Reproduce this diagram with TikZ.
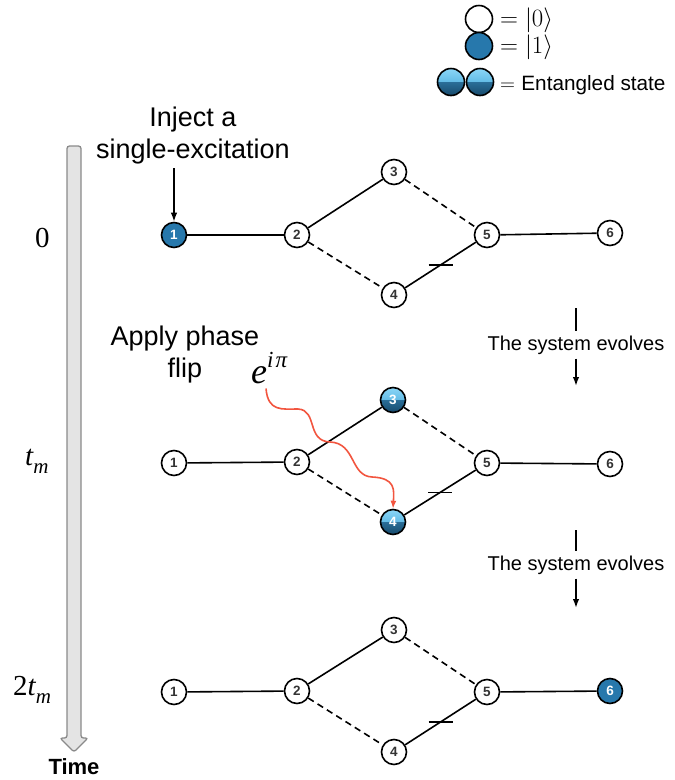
\documentclass[tikz,border=0pt]{standalone}
\usepackage{fontspec}
\setsansfont{Liberation Sans}
\newfontfamily\tms{Liberation Serif}
\usetikzlibrary{arrows.meta}
\definecolor{qblue}{HTML}{2778AC}
\definecolor{qgray}{HTML}{333333}
\definecolor{elight}{HTML}{8AD6F7}
\definecolor{emid}{HTML}{3B9FD3}
\definecolor{edarkA}{HTML}{2A6E98}
\definecolor{edarkB}{HTML}{174A6C}
\definecolor{wavy}{HTML}{F2553F}
\definecolor{tfill}{HTML}{E4E4E4}
\definecolor{tdraw}{HTML}{8A8A8A}
\tikzset{
  q0/.style={circle, draw=black, line width=1.6pt, fill=white, minimum size=25pt, inner sep=0pt,
    font=\sffamily\bfseries\fontsize{13.5}{13.5}\selectfont, text=qgray},
  q1/.style={q0, fill=qblue, text=white},
  qe/.style={q0, text=white, path picture={
      \fill[top color=elight, bottom color=emid] (path picture bounding box.north west) rectangle (path picture bounding box.east);
      \fill[top color=edarkA, bottom color=edarkB] (path picture bounding box.west) rectangle (path picture bounding box.south east);
    }},
  edge/.style={line width=1.6pt},
  dedge/.style={line width=1.6pt, dash pattern=on 6.5pt off 4.5pt},
  tick/.style={line width=1.6pt},
  lbl/.style={font=\sffamily\fontsize{27}{32}\selectfont},
  evo/.style={font=\sffamily\fontsize{20}{20}\selectfont, inner sep=4pt},
  tlab/.style={anchor=base west, inner sep=0pt, font=\tms\fontsize{29}{29}\selectfont},
  blk/.style={line width=1.6pt, -{Latex[length=9pt,width=6.5pt]}},
}
\newcommand{\tmsub}[1]{\raisebox{-0.28em}{\fontsize{21}{21}\selectfont\itshape #1}}
\begin{document}
\begin{tikzpicture}[x=1pt,y=-1pt]
\useasboundingbox (0,0) rectangle (675,780);

% legend
\node[q0, minimum size=27pt] (l0) at (479,19) {};
\node[q1, minimum size=27pt] (l1) at (479,46) {};
\node[qe, minimum size=27pt] (le1) at (451,82) {};
\node[qe, minimum size=27pt] (le2) at (480,82) {};
\node[anchor=west, font=\fontsize{24.88}{25}\selectfont, inner sep=0pt] (t0) at (500,20) {$=|0\rangle$};
\node[anchor=west, font=\fontsize{24.88}{25}\selectfont, inner sep=0pt] (t1) at (500,47) {$=|1\rangle$};
\node[anchor=west, font=\fontsize{20.74}{21}\selectfont, inner sep=0pt] (te) at (500,85) {$=$ \sffamily Entangled state};

% time arrow
\draw[fill=tfill, draw=tdraw, line width=1.3pt, rounded corners=2.5pt]
  (67,146) -- (81,146) -- (81,738) -- (88,738) -- (74,752) -- (60,738) -- (67,738) -- cycle;
\node[anchor=base, font=\sffamily\bfseries\fontsize{22}{22}\selectfont, inner sep=0pt] (time) at (74,774) {Time};
\node[tlab] (r0) at (35,247) {0};
\node[tlab] (r1) at (25,465) {\itshape t\tmsub{m}};
\node[tlab] (r2) at (13,695) {2\itshape t\tmsub{m}};

% row 0
\node[q1] (a1) at (174,235) {1};
\node[q0] (a2) at (297,235) {2};
\node[q0] (a3) at (394,172) {3};
\node[q0] (a4) at (394,295) {4};
\node[q0] (a5) at (487,235) {5};
\node[q0] (a6) at (610,233) {6};
% row tm
\node[q0] (b1) at (174,463) {1};
\node[q0] (b2) at (297,462) {2};
\node[qe] (b3) at (393,400) {3};
\node[qe] (b4) at (393,522) {4};
\node[q0] (b5) at (487,463) {5};
\node[q0] (b6) at (610,464) {6};
% row 2tm
\node[q0] (c1) at (174,692) {1};
\node[q0] (c2) at (297,691) {2};
\node[q0] (c3) at (394,630) {3};
\node[q0] (c4) at (394,752) {4};
\node[q0] (c5) at (487,692) {5};
\node[q1] (c6) at (610,691) {6};

\foreach \r in {a,b,c}{
  \draw[edge] (\r1) -- (\r2);
  \draw[edge] (\r2) -- (\r3);
  \draw[dedge] (\r2) -- (\r4);
  \draw[dedge] (\r3) -- (\r5);
  \draw[edge] (\r4) -- coordinate[pos=0.5] (\r m) (\r5);
  \draw[tick] ([xshift=-12pt]\r m) -- ([xshift=12pt]\r m);
  \draw[edge] (\r5) -- (\r6);
}

% inject
\node[lbl, align=center] (inj) at (193,136) {Inject a\\single-excitation};
\draw[blk] (inj.south -| a1) -- (a1.north);

% phase flip
\node[lbl, align=center] (apf) at (185,355) {Apply phase\\flip};
\node[anchor=base west, inner sep=0pt, font=\tms\itshape\fontsize{36}{36}\selectfont] (eip) at (251,383)
  {e\raisebox{0.42em}{\fontsize{23}{23}\selectfont i\kern2ptπ}};
\draw[wavy, line width=1.6pt, -{Latex[length=8pt,width=6pt]}]
  ([xshift=15pt,yshift=-5pt]eip.south west) .. controls (268,412) and (282,409) .. (298,409)
  .. controls (318,410) and (306,441) .. (330,442)
  .. controls (356,443) and (350,476) .. (372,477)
  .. controls (396,478) and (394,490) .. (b4.north);

% evolves
\node[evo] (ev1) at (576,345) {The system evolves};
\coordinate (ev1t) at (576,308);
\coordinate (ev1b) at (576,386);
\draw[line width=1.6pt] (ev1t) -- (ev1.north);
\draw[blk] (ev1.south) -- (ev1b);
\node[evo] (ev2) at (576,565) {The system evolves};
\coordinate (ev2t) at (576,530);
\coordinate (ev2b) at (576,608);
\draw[line width=1.6pt] (ev2t) -- (ev2.north);
\draw[blk] (ev2.south) -- (ev2b);
\end{tikzpicture}
\end{document}
